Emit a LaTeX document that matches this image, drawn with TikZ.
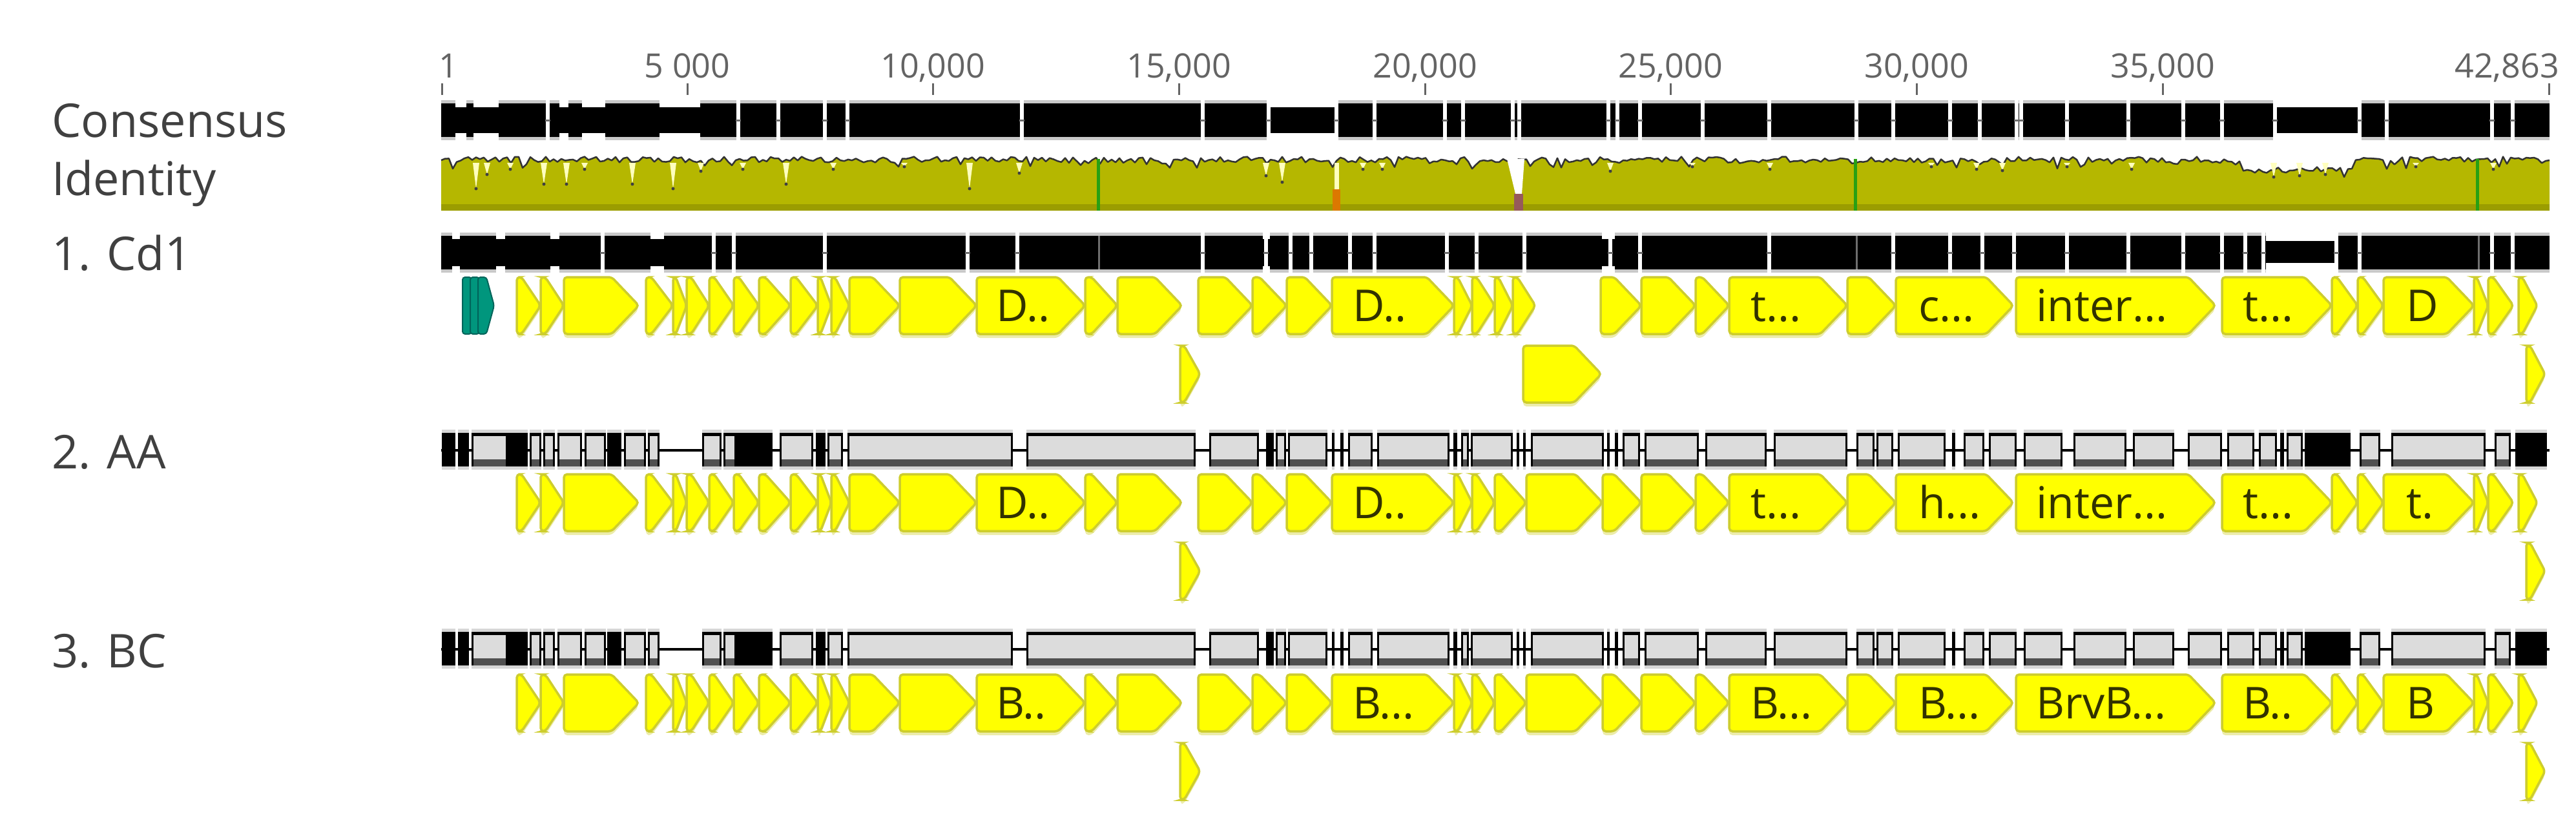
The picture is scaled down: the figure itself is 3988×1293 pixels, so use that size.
\documentclass[tikz,border=0pt]{standalone}
\usepackage{fontspec}
\setmainfont{Open Sans}
\definecolor{olivefill}{RGB}{181,183,0}
\definecolor{olivedark}{RGB}{155,157,0}
\definecolor{idgreen}{RGB}{40,160,20}
\definecolor{geneyel}{RGB}{255,255,0}
\definecolor{geneedge}{RGB}{205,205,45}
\definecolor{geneshadow}{RGB}{236,236,170}
\definecolor{boxgray}{RGB}{220,220,220}
\definecolor{boxdark}{RGB}{80,80,80}
\definecolor{halo}{RGB}{200,200,200}
\definecolor{halotwo}{RGB}{215,215,215}
\definecolor{labelgray}{RGB}{64,64,64}
\definecolor{tickgray}{RGB}{100,100,100}
\definecolor{tealone}{RGB}{0,150,125}
\definecolor{tealtwo}{RGB}{0,100,90}
\definecolor{paleyel}{RGB}{255,255,190}
\definecolor{genetext}{RGB}{50,50,0}
\definecolor{gapgray}{RGB}{110,110,110}
\definecolor{orangeid}{RGB}{220,120,0}
\definecolor{brownid}{RGB}{150,90,90}

\tikzset{
  rowlab/.style={anchor=base west, inner sep=0pt, text=labelgray, font=\fontsize{72}{74}\selectfont},
  ticklab/.style={anchor=base, inner sep=0pt, text=tickgray, font=\fontsize{52}{54}\selectfont},
  glab/.style={anchor=base west, inner sep=0pt, text=genetext, font=\fontsize{68}{70}\selectfont},
  genebody/.style={fill=geneyel, draw=geneedge, line width=3.5pt, rounded corners=5pt},
  tickmark/.style={draw=tickgray, line width=3pt},
  gapline/.style={draw=gapgray, line width=3pt},
  idline/.style={draw=black!80, line width=2.5pt, line join=round},
}

% gene arrow: x0, x1, top
\newcommand\genearrow[3]{%
  \pgfmathsetmacro\gnW{#2-#1}%
  \pgfmathsetmacro\gnT{min(42,0.8*\gnW)}%
  \pgfmathsetmacro\gnA{#2-\gnT}%
  \pgfmathsetmacro\gnM{#3+44}%
  \pgfmathsetmacro\gnB{#3+88}%
  \fill[geneshadow, rounded corners=5pt] (#1,{#3+6}) -- (\gnA,{#3+6}) -- (#2,{\gnM+6}) -- (\gnA,{\gnB+6}) -- (#1,{\gnB+6}) -- cycle;
  \path[genebody] (#1,#3) -- (\gnA,#3) -- (#2,\gnM) -- (\gnA,\gnB) -- (#1,\gnB) -- cycle;
}

% black alignment bar: top
\newcommand\blackbar[1]{%
  \fill[halo] (683,{#1-5}) rectangle (3947,{#1+57});
  \fill[black] (683,#1) rectangle (3947,{#1+52});
}

% grey/black sequence bar: top
\newcommand\seqbar[1]{%
  \draw[line width=4pt] (683,{#1+27}) -- (3947,{#1+27});
  \foreach \a/\b in {730/786, 820/838, 841/859, 863/901, 905/938, 966/1000, 1003/1021, 1087/1117, 1120/1140, 1207/1259, 1281/1305, 1312/1568, 1589/1851, 1872/1949, 1975/1991, 1994/2055, 2087/2125, 2132/2244, 2262/2274, 2277/2342, 2370/2483, 2512/2539, 2546/2630, 2640/2735, 2746/2860, 2874/2902, 2905/2931, 2938/3012, 3040/3072, 3079/3122, 3133/3193, 3210/3292, 3302/3366, 3387/3440, 3448/3490, 3497/3525, 3540/3565, 3653/3685, 3702/3848, 3862/3887}{%
    \fill[halotwo] (\a,{#1-5}) rectangle (\b,{#1+57});
    \fill[boxgray] (\a,#1) rectangle (\b,{#1+52});
    \fill[boxdark] (\a,{#1+41}) rectangle (\b,{#1+52});
    \fill[black] (\a,#1) rectangle (\b,{#1+5});
    \fill[black] (\a,#1) rectangle ({\a+3},{#1+52});
    \fill[black] ({\b-3},#1) rectangle (\b,{#1+52});
  }
  \foreach \a/\b in {684/705, 709/726, 786/817, 940/962, 1140/1196, 1263/1278, 1960/1972, 2062/2066, 2075/2080, 2250/2256, 2348/2352, 2358/2362, 2488/2492, 2500/2505, 3022/3027, 3530/3536, 3568/3639, 3894/3943}{%
    \fill[halotwo] (\a,{#1-5}) rectangle (\b,{#1+57});
    \fill[black] (\a,#1) rectangle (\b,{#1+52});
  }
}

\begin{document}
\begin{tikzpicture}[x=1pt, y=-1pt]
\useasboundingbox (0,0) rectangle (3988,1293);
\fill[white] (0,0) rectangle (3988,1293);

% ---------- row labels ----------
\node[rowlab] (lcons) at (80,212) {Consensus};
\node[rowlab] (lid) at (80,302) {Identity};
\node[rowlab] (lcd) at (80,418) {1. Cd1};
\node[rowlab] (laa) at (80,725) {2. AA};
\node[rowlab] (lbc) at (80,1033) {3. BC};

% ---------- ruler ----------
\node[ticklab, anchor=base west] (t1) at (679,120) {1};
\node[ticklab] (t5) at (1064,120) {5 000};
\node[ticklab] (t10) at (1444,120) {10,000};
\node[ticklab] (t15) at (1825,120) {15,000};
\node[ticklab] (t20) at (2206,120) {20,000};
\node[ticklab] (t25) at (2586,120) {25,000};
\node[ticklab] (t30) at (2967,120) {30,000};
\node[ticklab] (t35) at (3348,120) {35,000};
\node[ticklab, anchor=base east] (t42) at (3962,120) {42,863};
\foreach \x in {684,1064,1444,1825,2206,2586,2967,3348,3946}{
  \draw[tickmark] (\x,129) -- (\x,147);
}

% ---------- consensus bar ----------
\blackbar{160}
\foreach \g in {848,1143,1205,1277,1312,1582,1862,1964,2069,2128,2237,2265,2342,2352,2490,2504,2539,2636,2739,2874,2931,3019,3065,3122,3129,3200,3295,3380,3440,3522,3653,3695,3858,3890}{
  \fill[white] ({\g-3},155) rectangle ({\g+3},217);
  \draw[gapline] ({\g-4},186) -- ({\g+4},186);
}
\foreach \a/\b in {705/722, 733/772, 866/880, 901/937, 1021/1084, 1967/2066, 3525/3650}{
  \fill[white] (\a,155) rectangle (\b,166);
  \fill[white] (\a,206) rectangle (\b,217);
}

% ---------- identity graph ----------
\pgfmathsetseed{11}
\fill[olivefill] (683,326) -- (683,248) \foreach \x in {689,695,...,3941}{ -- (\x,{247+4.5*rand+12*(rnd>0.82)*rnd+16*(\x>3469)*(\x<3646)}) } -- (3947,248) -- (3947,326) -- cycle;
\fill[olivedark] (683,316) rectangle (3947,326);
\pgfmathsetseed{11}
\draw[idline] (683,248) \foreach \x in {689,695,...,3941}{ -- (\x,{247+4.5*rand+12*(rnd>0.82)*rnd+16*(\x>3469)*(\x<3646)}) } -- (3947,248);
\foreach \x/\d in {737/292, 754/270, 790/262, 842/285, 877/285, 905/262, 979/285, 1042/292, 1085/265, 1150/262, 1217/285, 1290/262, 1400/258, 1501/292, 1578/268, 1960/272, 1985/282, 2110/262, 2140/262, 2493/265, 2620/258, 2740/262, 2990/258, 3060/262, 3100/264, 3200/258, 3300/262, 3520/274, 3560/272, 3600/270, 3740/258, 3860/262}{
  \fill[paleyel] ({\x-5},252) -- (\x,\d) -- ({\x+5},252) -- cycle;
  \fill[black!75] (\x,\d) circle (2.5);
}
% deep columns
\fill[paleyel] (2066,252) rectangle (2073,293);
\fill[orangeid] (2063,293) rectangle (2075,326);
\fill[white] (2333,246) -- (2360,246) -- (2356,300) -- (2346,300) -- cycle;
\fill[brownid] (2344,300) rectangle (2358,326);
% green lines
\foreach \x in {1700,2872,3835}{
  \fill[idgreen] ({\x-2.5},246) rectangle ({\x+2.5},326);
}

% ---------- 1. Cd1 ----------
\blackbar{365}
\foreach \g in {933,1105,1136,1277,1498,1575,1862,1960,1998,2030,2090,2128,2240,2286,2360,2493,2539,2739,2931,3019,3069,3118,3200,3295,3380,3440,3476,3504,3617,3653,3858,3890}{
  \fill[white] ({\g-3},360) rectangle ({\g+3},422);
  \draw[gapline] ({\g-4},391) -- ({\g+4},391);
}
\foreach \g in {1701,2874,3837}{
  \draw[gapline] (\g,365) -- (\g,417);
}
\foreach \a/\b in {700/712, 768/782, 852/866, 1007/1028, 1955/1966, 2480/2500}{
  \fill[white] (\a,360) rectangle (\b,370);
  \fill[white] (\a,412) rectangle (\b,422);
}
\fill[white] (3508,360) rectangle (3614,373);
\fill[white] (3508,407) rectangle (3614,422);

% teal element
\foreach \a/\b in {716/742, 728/754, 740/765}{
  \filldraw[fill=tealone, draw=tealtwo, line width=2pt, rounded corners=4pt] (\a,429) -- ({\b-12},429) -- (\b,473) -- ({\b-12},517) -- (\a,517) -- cycle;
}
% genes row 1
\foreach \a/\b in {800/837, 837/873, 873/989, 1000/1042, 1042/1063, 1063/1098, 1098/1136, 1136/1175, 1175/1224, 1224/1266, 1266/1287, 1287/1315, 1315/1393, 1393/1512, 1512/1680, 1680/1730, 1730/1830, 1855/1939, 1939/1992, 1992/2062, 2062/2251, 2251/2279, 2279/2314, 2314/2342, 2342/2377, 2478/2541, 2541/2625, 2625/2677, 2677/2860, 2860/2935, 2935/3117, 3121/3430, 3440/3610, 3610/3650, 3650/3690, 3690/3830, 3830/3852, 3852/3891, 3899/3928}{
  \genearrow{\a}{\b}{429}
}
% genes row 2
\foreach \a/\b in {1827/1858, 2358/2479, 3911/3940}{
  \genearrow{\a}{\b}{535}
}
\node[glab] (c1) at (1542,497) {D..};
\node[glab] (c2) at (2094,497) {D..};
\node[glab] (c3) at (2710,497) {t...};
\node[glab] (c4) at (2970,497) {c...};
\node[glab] (c5) at (3152,497) {inter...};
\node[glab] (c6) at (3472,497) {t...};
\node[glab] (c7) at (3725,497) {D};

% ---------- 2. AA ----------
\seqbar{670}
\foreach \a/\b in {800/837, 837/873, 873/989, 1000/1042, 1042/1063, 1063/1098, 1098/1136, 1136/1175, 1175/1224, 1224/1266, 1266/1287, 1287/1315, 1315/1393, 1393/1512, 1512/1680, 1680/1730, 1730/1830, 1855/1939, 1939/1992, 1992/2062, 2062/2251, 2251/2279, 2279/2314, 2314/2363, 2363/2481, 2481/2541, 2541/2625, 2625/2677, 2677/2860, 2860/2935, 2935/3117, 3121/3430, 3440/3610, 3610/3650, 3650/3690, 3690/3830, 3830/3852, 3852/3891, 3899/3928}{
  \genearrow{\a}{\b}{734}
}
\foreach \a/\b in {1827/1858, 3911/3940}{
  \genearrow{\a}{\b}{840}
}
\node[glab] (a1) at (1542,802) {D..};
\node[glab] (a2) at (2094,802) {D..};
\node[glab] (a3) at (2710,802) {t...};
\node[glab] (a4) at (2970,802) {h...};
\node[glab] (a5) at (3152,802) {inter...};
\node[glab] (a6) at (3472,802) {t...};
\node[glab] (a7) at (3725,802) {t.};

% ---------- 3. BC ----------
\seqbar{978}
\foreach \a/\b in {800/837, 837/873, 873/989, 1000/1042, 1042/1063, 1063/1098, 1098/1136, 1136/1175, 1175/1224, 1224/1266, 1266/1287, 1287/1315, 1315/1393, 1393/1512, 1512/1680, 1680/1730, 1730/1830, 1855/1939, 1939/1992, 1992/2062, 2062/2251, 2251/2279, 2279/2314, 2314/2363, 2363/2481, 2481/2541, 2541/2625, 2625/2677, 2677/2860, 2860/2935, 2935/3117, 3121/3430, 3440/3610, 3610/3650, 3650/3690, 3690/3830, 3830/3852, 3852/3891, 3899/3928}{
  \genearrow{\a}{\b}{1044}
}
\foreach \a/\b in {1827/1858, 3911/3940}{
  \genearrow{\a}{\b}{1150}
}
\node[glab] (b1) at (1542,1112) {B..};
\node[glab] (b2) at (2094,1112) {B...};
\node[glab] (b3) at (2710,1112) {B...};
\node[glab] (b4) at (2970,1112) {B...};
\node[glab] (b5) at (3152,1112) {BrvB...};
\node[glab] (b6) at (3472,1112) {B..};
\node[glab] (b7) at (3725,1112) {B};
\end{tikzpicture}
\end{document}
